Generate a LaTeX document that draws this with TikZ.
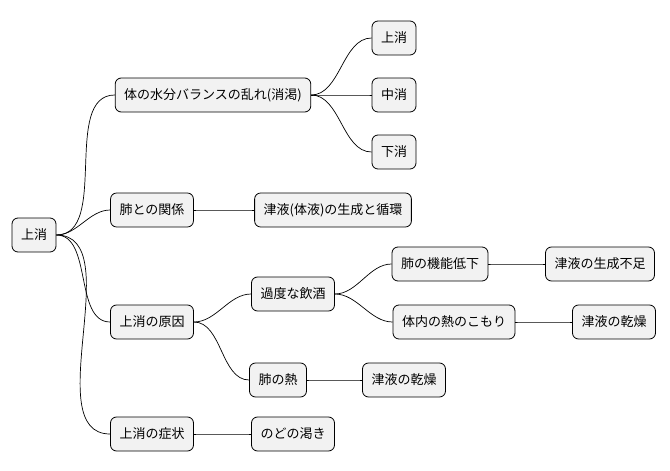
\documentclass[tikz,border=0pt]{standalone}
\usepackage{fontspec}
\newfontfamily\cjk{Noto Sans CJK JP}
\usetikzlibrary{positioning}
\tikzset{
  topic/.style={draw=black, fill=gray!10, rounded corners=6pt, line width=0.8pt,
    minimum height=34pt, inner xsep=9pt, font=\cjk\fontsize{13}{15}\selectfont},
  branch/.style={line width=0.7pt, out=0, in=180, looseness=0.9}
}
\begin{document}
\begin{tikzpicture}[x=1pt,y=-1pt]
\useasboundingbox (0,0) rectangle (670,471);

%% root
\node[topic] (root) at (34,235) {上消};

%% first level
\node[topic] (bal) at (213,95) {体の水分バランスの乱れ(消渇)};
\node[topic] (lung) at (152,210) {肺との関係};
\node[topic] (cause) at (152,322) {上消の原因};
\node[topic] (symp) at (152,434) {上消の症状};

%% second level
\node[topic] (up) at (394,38) {上消};
\node[topic] (mid) at (394,95) {中消};
\node[topic] (low) at (394,152) {下消};
\node[topic] (cyc) at (333,210) {津液(体液)の生成と循環};
\node[topic] (drink) at (293,294) {過度な飲酒};
\node[topic] (heat) at (278,380) {肺の熱};
\node[topic] (thirst) at (293,434) {のどの渇き};

%% third level
\node[topic] (func) at (440,264) {肺の機能低下};
\node[topic] (inner) at (454,322) {体内の熱のこもり};
\node[topic] (dry1) at (404,380) {津液の乾燥};
\node[topic] (short) at (600,264) {津液の生成不足};
\node[topic] (dry2) at (614,322) {津液の乾燥};

%% connectors
\foreach \a/\b in {root/bal, root/lung, root/cause, root/symp,
                   bal/up, bal/mid, bal/low, lung/cyc,
                   cause/drink, cause/heat, symp/thirst,
                   drink/func, drink/inner, heat/dry1,
                   func/short, inner/dry2}
  \draw[branch] (\a.east) to (\b.west);

\end{tikzpicture}
\end{document}
